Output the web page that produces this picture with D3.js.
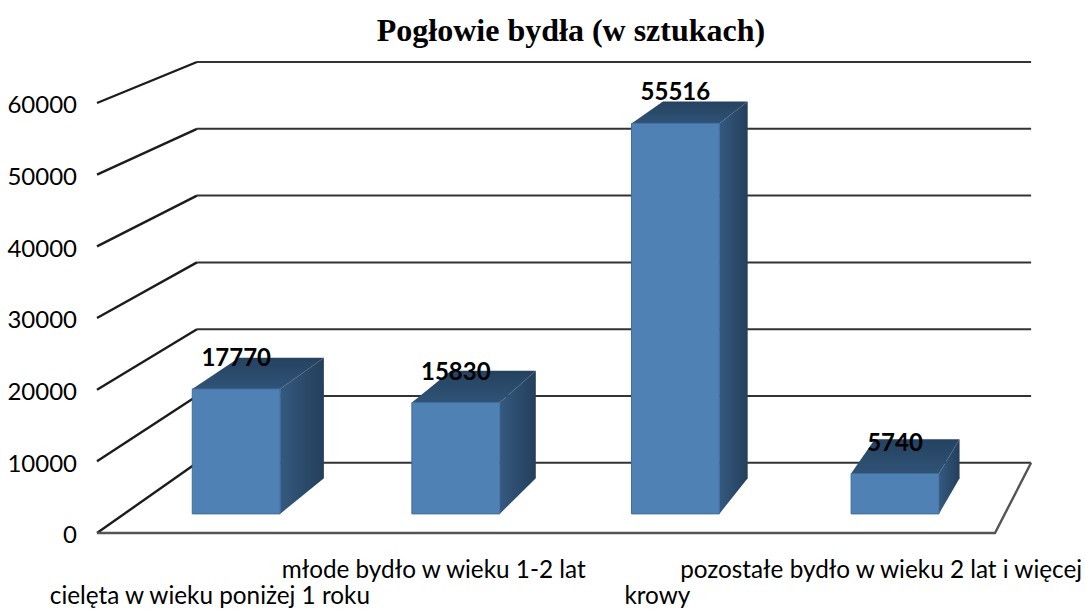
<!DOCTYPE html>
<html>
<head>
<meta charset="utf-8">
<script src="https://cdnjs.cloudflare.com/ajax/libs/d3/7.8.5/d3.min.js"></script>
<style>
  html, body { margin: 0; background: #fff; }
  svg { display: block; }
</style>
</head>
<body>
<div id="wrapper"></div>
<script>
const categories = [
  "cielęta w wieku poniżej 1 roku",
  "młode bydło w wieku 1-2 lat",
  "krowy",
  "pozostałe bydło w wieku 2 lat i więcej"
];
const values = [17770, 15830, 55516, 5740];
const yTicks = [0, 10000, 20000, 30000, 40000, 50000, 60000];
const title = "Pogłowie bydła (w sztukach)";

const width = 1086;
const height = 610;
const labelFont = "Lato, 'Open Sans', sans-serif";

// the 3D look: every depth plane is the front plane shrunk towards one vanishing point
const vanish = { x: 1526, y: -500 };
const wallDepth = 0.932;
const barFront = 0.9815;
const barBack = 0.947;
const project = (x, y, k) => [vanish.x + k * (x - vanish.x), vanish.y + k * (y - vanish.y)];
const pathOf = pts => "M" + pts.map(p => p.join(",")).join("L") + "Z";

const xScaler = d3.scaleBand()
  .domain(categories)
  .range([100, 995])
  .paddingInner(0.6)
  .paddingOuter(0.3);
const yScaler = d3.scaleLinear()
  .domain([0, 60000])
  .range([533, 103]);

const wrapper = d3.select("#wrapper")
  .append("svg")
  .attr("width", width)
  .attr("height", height);

const defs = wrapper.append("defs");
function gradient(id, x2, y2, stops) {
  const g = defs.append("linearGradient").attr("id", id)
    .attr("x1", 0).attr("y1", 0).attr("x2", x2).attr("y2", y2);
  stops.forEach((c, i) => g.append("stop")
    .attr("offset", i / (stops.length - 1)).attr("stop-color", c));
}
gradient("topFace", 0, 1, ["#254260", "#2f5376"]);
gradient("sideFace", 1, 0, ["#35597f", "#243f5b"]);

wrapper.append("text")
  .attr("x", 571)
  .attr("y", 41)
  .attr("text-anchor", "middle")
  .attr("font-family", "'Liberation Serif', serif")
  .attr("font-weight", "bold")
  .attr("font-size", 32)
  .attr("fill", "#000")
  .text(title);

// walls
const grid = wrapper.append("g")
  .attr("fill", "none")
  .attr("stroke", "#333")
  .attr("stroke-width", 2);
const x0 = xScaler.range()[0];
const x1 = xScaler.range()[1];
grid.selectAll(".side")
  .data(yTicks)
  .join("line")
  .attr("class", "side")
  .attr("stroke", "#1c1c1c")
  .attr("stroke-width", 2.4)
  .attr("x1", x0 - 3)
  .attr("y1", d => yScaler(d))
  .attr("x2", d => project(x0, yScaler(d), wallDepth)[0])
  .attr("y2", d => project(x0, yScaler(d), wallDepth)[1]);
grid.selectAll(".back")
  .data(yTicks)
  .join("line")
  .attr("class", "back")
  .attr("x1", d => project(x0, yScaler(d), wallDepth)[0])
  .attr("y1", d => project(x0, yScaler(d), wallDepth)[1])
  .attr("x2", d => project(x1, yScaler(d), wallDepth)[0])
  .attr("y2", d => project(x1, yScaler(d), wallDepth)[1]);
grid.append("path")
  .attr("stroke", "#555")
  .attr("stroke-width", 2.4)
  .attr("d", d3.line()([
    [x0 - 3, yScaler(0)],
    [x1, yScaler(0)],
    project(x1, yScaler(0), wallDepth)
  ]));

// bars
const bars = wrapper.append("g")
  .selectAll("g")
  .data(categories.map((c, i) => ({ category: c, value: values[i] })))
  .join("g");

const corners = d => {
  const l = xScaler(d.category);
  const r = l + xScaler.bandwidth();
  const t = yScaler(d.value);
  const b = yScaler(0);
  return {
    fl: project(l, t, barFront), fr: project(r, t, barFront),
    fbl: project(l, b, barFront), fbr: project(r, b, barFront),
    bl: project(l, t, barBack), br: project(r, t, barBack),
    bbr: project(r, b, barBack)
  };
};

bars.append("path")
  .attr("fill", "url(#topFace)")
  .attr("d", d => { const c = corners(d); return pathOf([c.fl, c.bl, c.br, c.fr]); });
bars.append("path")
  .attr("fill", "url(#sideFace)")
  .attr("d", d => { const c = corners(d); return pathOf([c.fr, c.br, c.bbr, c.fbr]); });
bars.append("path")
  .attr("fill", "#4f81b5")
  .attr("stroke", "#3f6d9e")
  .attr("d", d => { const c = corners(d); return pathOf([c.fl, c.fr, c.fbr, c.fbl]); });

bars.append("text")
  .attr("x", d => { const c = corners(d); return (c.fl[0] + c.fr[0]) / 2; })
  .attr("y", d => corners(d).fl[1] - 23)
  .attr("text-anchor", "middle")
  .attr("font-family", labelFont)
  .attr("font-weight", "bold")
  .attr("font-size", 24)
  .attr("fill", "#000")
  .text(d => d.value);

// axes
const yAxisGen = d3.axisLeft(yScaler).tickValues(yTicks).tickSize(0).tickPadding(20).tickFormat(d3.format("d"));
const axisY = wrapper.append("g").attr("transform", `translate(${x0 - 3},2)`).call(yAxisGen);
axisY.select(".domain").remove();
axisY.selectAll("text")
  .attr("font-family", labelFont)
  .attr("font-size", 24)
  .attr("fill", "#000");

const xAxisGen = d3.axisBottom(xScaler).tickSize(0);
const axisX = wrapper.append("g").attr("transform", `translate(-2,${yScaler(0)})`).call(xAxisGen);
axisX.select(".domain").remove();
axisX.selectAll("text")
  .attr("font-family", labelFont)
  .attr("font-size", 24.3)
  .attr("fill", "#000")
  .attr("dy", null)
  .attr("y", (d, i) => i % 2 ? 45 : 71);
</script>
</body>
</html>
